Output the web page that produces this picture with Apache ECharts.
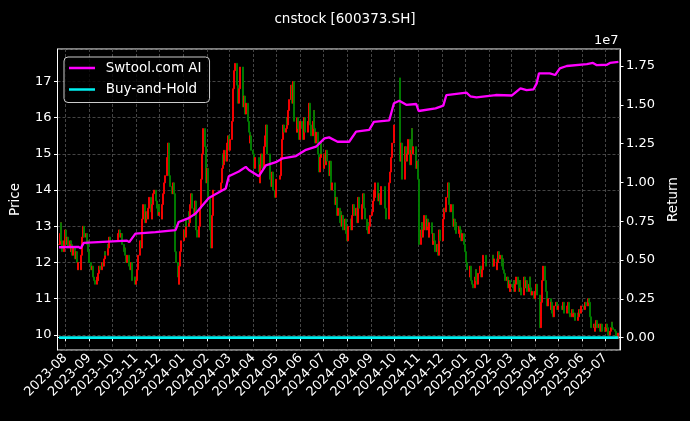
<!DOCTYPE html>
<html><head><meta charset="utf-8">
<script src="https://cdn.jsdelivr.net/npm/echarts@6/dist/echarts.min.js"></script>
<style>html,body{margin:0;padding:0;background:#000}#c{width:690px;height:421px}</style>
</head><body><div id="c"></div><script>
// ---- data ----
const titleText = 'cnstock [600373.SH]';
const axisStart = '2023-07-22';
const axisEnd = '2025-07-20';
const firstTradingDay = '2023-07-24';
const holidays = ['2023-09-29','2023-10-02','2023-10-03','2023-10-04','2023-10-05','2023-10-06',
  '2024-01-01','2024-02-09','2024-02-12','2024-02-13','2024-02-14','2024-02-15','2024-02-16',
  '2024-04-04','2024-04-05','2024-05-01','2024-05-02','2024-05-03','2024-06-10','2024-09-16','2024-09-17',
  '2024-10-01','2024-10-02','2024-10-03','2024-10-04','2024-10-07',
  '2025-01-01','2025-01-28','2025-01-29','2025-01-30','2025-01-31','2025-02-03','2025-02-04',
  '2025-04-04','2025-05-01','2025-05-02','2025-05-05','2025-06-02'];
// daily closes, one per trading day
const closes2023 = [
  12.5,12.8,13.1,12.6,12.3,12.6,
  12.9,12.5,12.7,12.4, 12.6,12.3,12.5,12.2,12.4, 12.1,12.3,12.0,11.8,12.0, 11.8,12.2,12.7,13.0,12.7, 12.8,12.5,12.6,12.3,
  12.0, 11.8,11.9,11.6,11.5,11.4, 11.6,11.5,11.7,11.9,11.8, 12.0,11.9,12.1,12.3,12.2, 12.5,12.4,12.7,12.6,
  12.8,12.9,12.7,12.8,12.5, 12.3,12.4,12.2,12.0,12.2, 11.9,11.8,12.0,11.7,11.5, 11.6,11.4,
  11.5,11.8,12.2, 12.6,12.4,12.9,13.2,13.6, 13.1,13.4,13.2,13.5,13.8, 13.4,13.2,13.6,13.9,14.0, 13.7,13.5,13.3,13.6,
  13.4, 13.2,13.6,13.9,14.2,14.4, 14.9,15.3,14.8,14.4,14.1, 13.9,14.2,13.9,12.3,12.0, 11.6,11.4,11.9,12.3,12.6
];
const closes2024 = [
  12.9,12.7,13.2,13.0, 13.4,13.1,13.6,13.9,13.5, 13.3,13.7,13.2,12.9,12.7, 13.0,13.5,14.3,15.0,15.7, 15.2,14.6,14.2,
  14.6,13.8,12.9,12.4,13.3,14.0, 14.2,14.6,15.0,14.7,15.1, 14.8,15.3,15.5,15.1,
  15.4, 15.9,16.3,16.8,17.3,17.5, 16.9,16.4,16.8,17.2,17.4, 16.9,16.3,16.6,16.1,16.4, 15.9,15.6,15.3,15.5,15.1,
  15.0,14.6,14.9, 14.5,14.2,14.7,15.0,14.6, 15.2,15.5,15.8,15.3,15.0, 14.7,14.3,14.1,14.5,14.0, 13.8,14.3,
  14.4,14.9,15.4,15.8,15.6, 15.7,16.0,15.8,16.2,16.5, 16.9,16.4,17.0,16.3,15.9, 15.6,16.0,15.7,15.4,15.9,
  15.7,15.4,15.8,16.0,15.6, 15.9,16.4,15.8,15.5, 15.9,16.2,15.7,15.3,15.6, 15.0,14.5,14.9,15.3,15.0,
  14.6,15.0,14.7,15.1,14.8, 14.4,14.8,14.3,14.0,14.2, 13.9,13.6,13.8,13.3,13.5, 13.1,13.4,13.0,13.3,12.9, 13.2,12.8,12.6,
  12.7,13.0, 13.2,12.9,13.3,13.6,13.3, 13.5,13.1,13.4,13.8,13.5, 13.2,13.6,13.9,13.5,13.2, 12.9,13.1,12.8,13.0,13.3,
  13.4,13.7,14.0,13.8,14.2, 14.0,13.7,13.9,13.6,14.1, 13.8,13.5,13.2, 13.6,14.2,14.5,14.9,15.3, 15.8,
  14.8,15.3,14.6,14.3, 14.9,15.2,14.8,15.0,15.4, 14.7,15.1,15.7,15.0,15.2, 14.9,14.6,14.8,14.3,
  12.5, 12.9,13.1,12.7,12.9,13.3, 12.9,13.2,13.0,12.7,13.1, 12.8,12.5,12.8,12.6,12.3, 12.5,12.2,12.7,12.9,12.6,
  12.9,13.2,13.5,13.4,13.8, 14.2,13.9,13.6,13.4,13.6, 13.0,13.2,12.9,13.1,12.8, 13.0,12.7,12.9,12.6,12.8, 12.5,12.3
];
const closes2025 = [
  12.0,11.8, 11.6,11.9,11.5,11.4,11.3, 11.6,11.8,11.5,11.4,11.7, 11.9,11.6,11.8,12.0,12.2, 11.9,
  12.2,11.9,12.1, 11.8,12.0,12.3,12.1,12.2, 11.9,12.1,11.8,11.7,11.5, 11.6,11.3,11.5,11.2,11.4,
  11.3,11.5,11.2,11.4,11.6, 11.4,11.2,11.5,11.3,11.1, 11.4,11.6,11.3,11.5,11.2, 11.4,11.6,11.3,11.1,11.2, 11.0,
  11.2,11.4,11.1, 10.2,10.5,10.9,11.5,11.9, 11.5,11.2,11.0,10.8,11.0, 10.7,10.9,10.6,10.5,10.8, 10.9,10.7,10.8,
  10.7,10.9,10.8,10.6, 10.8,10.7,10.9,10.6,10.5, 10.7,10.6,10.5,10.6,10.4, 10.6,10.5,10.7,10.6,10.8,
  10.7,10.8,10.9,10.8, 11.0,10.9,10.5,10.3,10.2, 10.3,10.1,10.2,10.4,10.2, 10.3,10.1,10.2,10.3,10.1, 10.2,
  10.1,10.3,10.2,10.0, 10.1,10.2,10.35,10.2,10.15, 10.1,9.95,9.9,10.0,10.05
];
const gapOpens = [['2024-10-08', 17.1]];
// strategy equity (Swtool.com AI)
const aiDates = ['2023-07-24','2023-08-18','2023-08-21','2023-08-25','2023-10-20','2023-10-23','2023-10-31','2023-11-26',
  '2023-12-22','2023-12-26','2024-01-08','2024-01-17','2024-02-03','2024-02-25','2024-02-29','2024-03-13','2024-03-22',
  '2024-03-26','2024-04-08','2024-04-17','2024-04-30','2024-05-09','2024-05-26','2024-06-08','2024-06-21','2024-07-02',
  '2024-07-08','2024-07-19','2024-08-03','2024-08-12','2024-08-29','2024-09-04','2024-09-24','2024-09-30','2024-10-07',
  '2024-10-16','2024-10-29','2024-11-01','2024-11-23','2024-12-03','2024-12-07','2025-01-02','2025-01-07','2025-01-15',
  '2025-02-09','2025-03-02','2025-03-13','2025-03-21','2025-03-30','2025-04-03','2025-04-06','2025-04-20','2025-04-27',
  '2025-05-03','2025-05-12','2025-06-07','2025-06-15','2025-06-20','2025-07-03','2025-07-07','2025-07-18'];
const aiValues = [5.82e6,5.85e6,5.75e6,6.10e6,6.25e6,6.15e6,6.70e6,6.80e6,
  6.93e6,7.45e6,7.70e6,8.00e6,9.00e6,9.60e6,10.4e6,10.7e6,11.0e6,
  10.8e6,10.4e6,11.1e6,11.3e6,11.55e6,11.7e6,12.1e6,12.3e6,12.84e6,
  12.9e6,12.62e6,12.62e6,13.27e6,13.38e6,13.9e6,14.0e6,15.1e6,15.26e6,
  15.0e6,15.05e6,14.6e6,14.77e6,14.95e6,15.63e6,15.78e6,15.55e6,15.48e6,
  15.63e6,15.6e6,16.06e6,15.95e6,16.0e6,16.38e6,17.03e6,17.03e6,16.92e6,
  17.35e6,17.5e6,17.62e6,17.7e6,17.55e6,17.58e6,17.7e6,17.76e6];
// buy-and-hold (ratio, appears at ~0 on the 1e7 scale)
const bhDates = ['2023-07-24','2023-10-09','2024-01-02','2024-04-01','2024-07-01','2024-10-08','2025-01-02','2025-04-01','2025-07-18'];
const bhValues = [1.00,1.02,1.03,1.20,1.17,1.18,0.96,0.90,0.80];
const priceTicksRange = [9.583, 17.898];
const returnRange = [-799000, 18595000];

// ---- build ----
const ymd = d => d.toISOString().slice(0, 10);
const toDate = s => new Date(s + 'T00:00:00Z');
const days = [];
for (let d = toDate(axisStart); d <= toDate(axisEnd); d = new Date(d.getTime() + 86400000)) days.push(ymd(d));
const closes = closes2023.concat(closes2024, closes2025);
const hol = new Set(holidays);
const gapMap = new Map(gapOpens);
const candles = [];
let d = toDate(firstTradingDay);
while (candles.length < closes.length) {
  const s = ymd(d), wd = d.getUTCDay();
  if (wd !== 0 && wd !== 6 && !hol.has(s)) {
    const i = candles.length;
    const c = closes[i];
    const o = gapMap.has(s) ? gapMap.get(s) : (i > 0 ? closes[i - 1] : c);
    candles.push([s, o, c, Math.min(o, c), Math.max(o, c)]);
  }
  d = new Date(d.getTime() + 86400000);
}
const monthStart = (idx, val) => typeof val === 'string' ? val.endsWith('-01') : days[idx].endsWith('-01');
const FONT = 'DejaVu Sans';
const legendIcon = 'path://M0,0H30V3H0Z M34,0H34.01V3H34Z';

const chart = echarts.init(document.getElementById('c'), null, {renderer: 'canvas'});
chart.setOption({
  backgroundColor: '#000',
  animation: false,
  textStyle: {fontFamily: FONT, color: '#fff'},
  title: {text: titleText, left: 'center', top: 7,
    textStyle: {color: '#fff', fontSize: 13.5, fontWeight: 'normal', fontFamily: FONT}},
  legend: {
    orient: 'vertical', left: 64, top: 57, padding: [4, 8, 6, 5],
    itemWidth: 34, itemHeight: 2.6, itemGap: 7.5,
    backgroundColor: 'rgba(0,0,0,0.8)', borderColor: '#cccccc', borderWidth: 1, borderRadius: 4,
    textStyle: {color: '#fff', fontSize: 13.5, fontFamily: FONT},
    data: [{name: 'Swtool.com AI', icon: legendIcon}, {name: 'Buy-and-Hold', icon: legendIcon}]
  },
  grid: {left: 57.5, right: 70, top: 49, bottom: 71, show: true, borderColor: '#ffffff', borderWidth: 1, backgroundColor: '#000'},
  graphic: [{type: 'text', left: 594, top: 34, style: {text: '1e7', fill: '#fff', font: '13px "DejaVu Sans"'}}],
  xAxis: {
    type: 'category', data: days, boundaryGap: false,
    axisLine: {show: true, lineStyle: {color: '#fff'}},
    axisTick: {show: true, interval: monthStart, length: 3.5, lineStyle: {color: '#fff'}},
    axisLabel: {interval: monthStart, rotate: 45, color: '#fff', fontSize: 13, fontFamily: FONT, margin: 6,
      formatter: v => v.slice(0, 7)},
    splitLine: {show: true, interval: monthStart, lineStyle: {color: '#555555', width: 0.8, type: [3, 2]}}
  },
  yAxis: [
    {type: 'value', position: 'left', min: priceTicksRange[0], max: priceTicksRange[1],
      minInterval: 1, maxInterval: 1, splitNumber: 8,
      name: 'Price', nameLocation: 'middle', nameGap: 35, nameRotate: 90,
      nameTextStyle: {color: '#fff', fontSize: 13.5, fontFamily: FONT},
      axisLine: {show: true, lineStyle: {color: '#fff'}},
      axisTick: {show: true, length: 3.5, lineStyle: {color: '#fff'}},
      axisLabel: {color: '#fff', fontSize: 13, fontFamily: FONT, margin: 6, showMinLabel: false, showMaxLabel: false,
        formatter: v => Number.isInteger(Math.round(v * 1000) / 1000) ? String(Math.round(v)) : ''},
      splitLine: {show: true, lineStyle: {color: '#555555', width: 0.8, type: [3, 2]}}},
    {type: 'value', position: 'right', min: returnRange[0], max: returnRange[1],
      minInterval: 2.5e6, maxInterval: 2.5e6, splitNumber: 8,
      name: 'Return', nameLocation: 'middle', nameGap: 46, nameRotate: 90,
      nameTextStyle: {color: '#fff', fontSize: 13.5, fontFamily: FONT},
      axisLine: {show: true, lineStyle: {color: '#fff'}},
      axisTick: {show: true, length: 3.5, lineStyle: {color: '#fff'}},
      axisLabel: {color: '#fff', fontSize: 13, fontFamily: FONT, margin: 6, showMinLabel: false, showMaxLabel: false,
        formatter: v => (v / 1e7).toFixed(2)},
      splitLine: {show: false}}
  ],
  series: [
    {type: 'candlestick', name: 'price', data: candles, encode: {x: 0, y: [1, 2, 3, 4]},
      xAxisIndex: 0, yAxisIndex: 0, barWidth: 1.5, z: 2,
      itemStyle: {color: '#ff0000', color0: '#008000', borderColor: '#ff0000', borderColor0: '#008000', borderWidth: 0.9}},
    {type: 'line', name: 'Swtool.com AI', yAxisIndex: 1, data: aiDates.map((t, i) => [t, aiValues[i]]),
      showSymbol: false, color: '#ff00ff', lineStyle: {width: 2.3, color: '#ff00ff'}, z: 4},
    {type: 'line', name: 'Buy-and-Hold', yAxisIndex: 1, data: bhDates.map((t, i) => [t, bhValues[i]]),
      showSymbol: false, color: '#00f0f0', lineStyle: {width: 2.8, color: '#00f0f0'}, z: 4}
  ]
});
</script></body></html>
